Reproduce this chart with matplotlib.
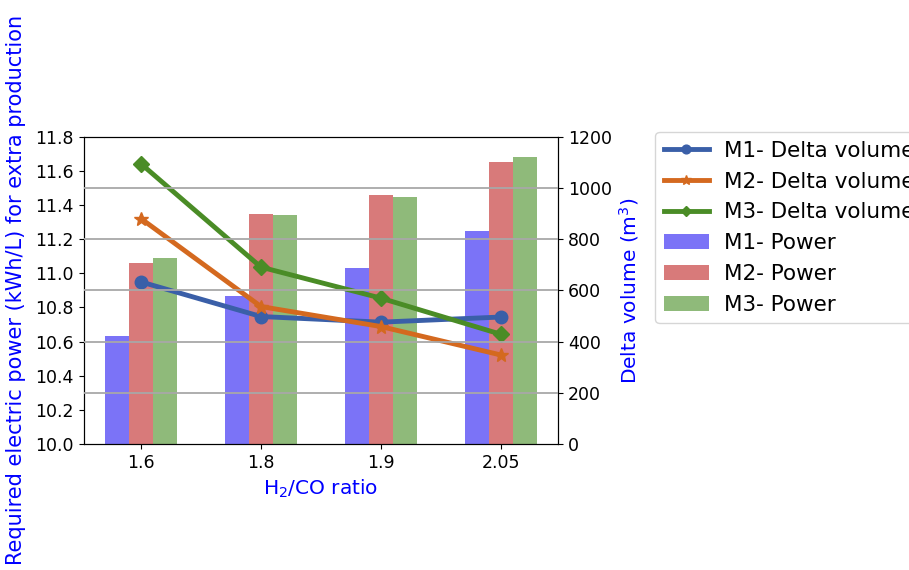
import matplotlib
matplotlib.use("Agg")
import matplotlib.pyplot as plt
import numpy as np

# H2/CO ratios
ratios = ["1.6", "1.8", "1.9", "2.05"]

# required electric power (kWh/L), left axis
power_m1 = [10.63, 10.87, 11.03, 11.25]
power_m2 = [11.06, 11.35, 11.46, 11.65]
power_m3 = [11.09, 11.34, 11.45, 11.68]

# delta volume (m3), right axis
dvol_m1 = [633, 498, 476, 496]
dvol_m2 = [880, 537, 459, 348]
dvol_m3 = [1094, 691, 570, 429]

x = np.arange(len(ratios))
width = 0.2

fig = plt.figure(figsize=(9.09, 5.70), dpi=100)
ax1 = fig.add_axes([0.092, 0.221, 0.522, 0.539])

b1 = ax1.bar(x - width, power_m1, width, color="#7b73f7", label="M1- Power")
b2 = ax1.bar(x, power_m2, width, color="#d87a7a", label="M2- Power")
b3 = ax1.bar(x + width, power_m3, width, color="#8fba7a", label="M3- Power")

ax1.set_ylim(10.0, 11.8)
ax1.set_yticks(np.arange(10.0, 11.81, 0.2))
ax1.set_xticks(x)
ax1.set_xticklabels(ratios)
ax1.tick_params(labelsize=12.5)
ax1.set_xlabel("H$_2$/CO ratio", color="blue", fontsize=14.5)
ax1.set_ylabel("Required electric power (kWh/L) for extra production",
               color="blue", fontsize=15, labelpad=7)

ax2 = ax1.twinx()
ax2.set_ylim(0, 1200)
ax2.set_yticks(np.arange(0, 1201, 200))
ax2.grid(axis="y", color="#a8a8a8", linewidth=1.3)
ax2.set_axisbelow(False)
# no grid on top of the spines
gl = ax2.get_ygridlines()
gl[0].set_visible(False)
gl[-1].set_visible(False)
l1, = ax2.plot(x, dvol_m1, color="#3a5fa8", marker="o", markersize=9,
               linewidth=3.5, label="M1- Delta volume")
l2, = ax2.plot(x, dvol_m2, color="#d4691f", marker="*", markersize=10,
               linewidth=3.5, label="M2- Delta volume")
l3, = ax2.plot(x, dvol_m3, color="#4a8c26", marker="D", markersize=8,
               linewidth=3.5, label="M3- Delta volume")
ax2.tick_params(labelsize=12.5)
ax2.set_ylabel("Delta volume (m$^3$)", color="blue", fontsize=14.5)

fig.legend(handles=[l1, l2, l3, b1, b2, b3], loc="upper left",
           bbox_to_anchor=(0.709, 0.787), fontsize=15.5, handlelength=2.1,
           handletextpad=0.7, labelspacing=0.5, markerscale=0.7)

fig.savefig("out.png", dpi=100)
